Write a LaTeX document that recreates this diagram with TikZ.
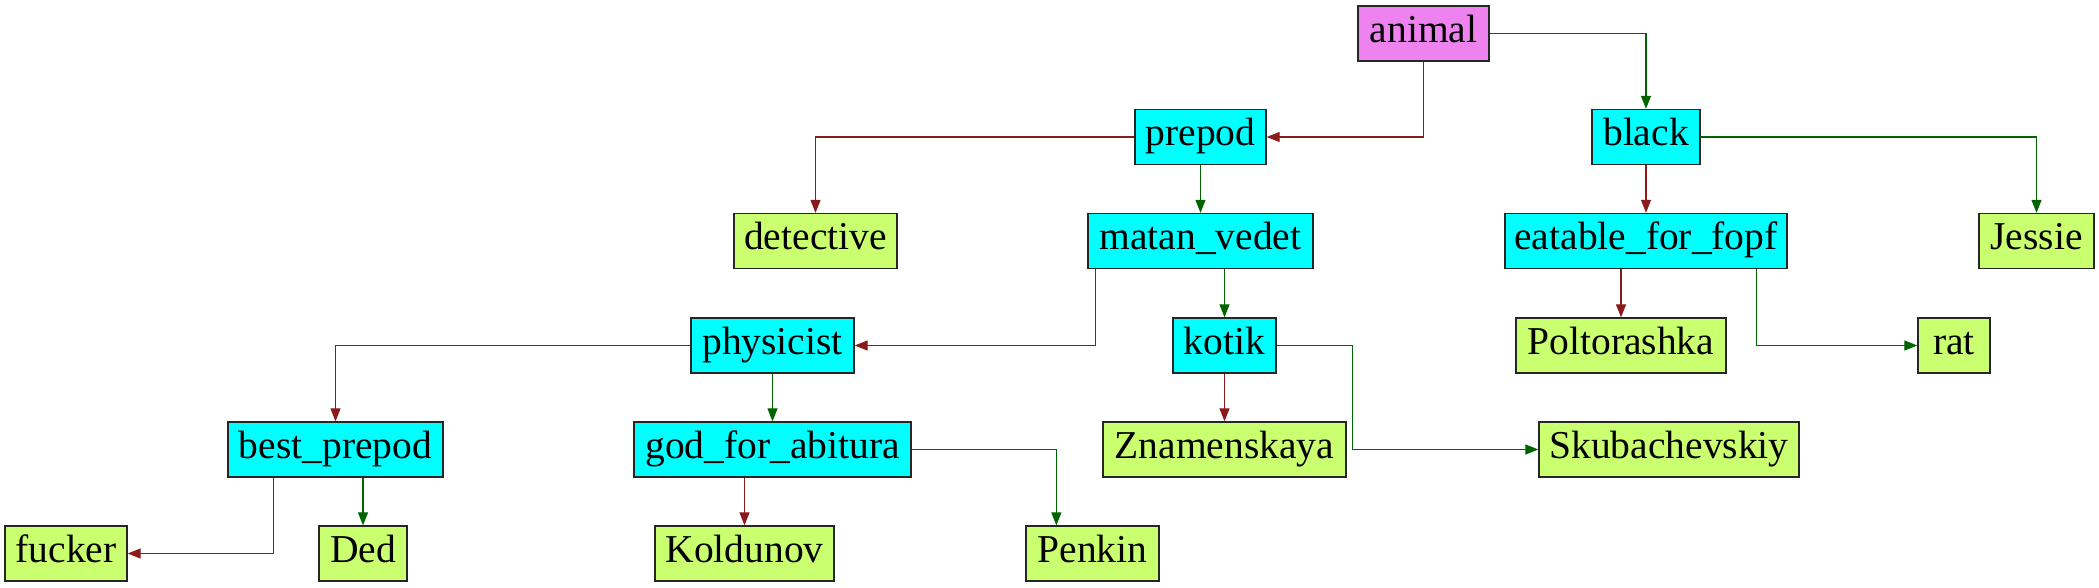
\documentclass[tikz,border=0pt]{standalone}
\usepackage{fontspec}
\setmainfont{Liberation Serif}
\usetikzlibrary{arrows.meta}
\definecolor{nviolet}{HTML}{EE82EE}
\definecolor{ncyan}{HTML}{00FFFF}
\definecolor{nlime}{HTML}{CAFF70}
\definecolor{ered}{HTML}{8B1A1A}
\definecolor{egreen}{HTML}{006400}
\tikzset{
  box/.style={draw=black!85, line width=1.3pt, inner xsep=0pt, inner ysep=0pt,
    minimum height=55pt, text height=36pt, text depth=19pt,
    font=\fontsize{39.5}{47}\selectfont},
  rootbox/.style={box, fill=nviolet},
  midbox/.style={box, fill=ncyan},
  leafbox/.style={box, fill=nlime},
  redge/.style={draw=ered, line width=1.1pt, -{Triangle[length=13pt,width=10pt]}},
  gedge/.style={draw=egreen, line width=1.1pt, -{Triangle[length=13pt,width=10pt]}},
}
\begin{document}
\begin{tikzpicture}[x=1pt,y=-1pt]
\useasboundingbox (0,0) rectangle (2099,587);
\node[rootbox, minimum width=131pt] (animal) at (1423.5,33.5) {animal};
\node[midbox, minimum width=131pt] (prepod) at (1200.5,137) {prepod};
\node[midbox, minimum width=108pt] (black) at (1646,137) {black};
\node[leafbox, minimum width=163pt] (detective) at (815.5,241) {detective};
\node[midbox, minimum width=225pt] (matan) at (1200.5,241) {matan\_vedet};
\node[midbox, minimum width=282pt] (eatable) at (1646,241) {eatable\_for\_fopf};
\node[leafbox, minimum width=115pt] (jessie) at (2036.5,241) {Jessie};
\node[midbox, minimum width=163pt] (physicist) at (772.5,345.5) {physicist};
\node[midbox, minimum width=103pt] (kotik) at (1224.5,345.5) {kotik};
\node[leafbox, minimum width=210pt] (poltorashka) at (1621,345.5) {Poltorashka};
\node[leafbox, minimum width=72pt] (rat) at (1954,345.5) {rat};
\node[midbox, minimum width=215pt] (best) at (335.5,449.5) {best\_prepod};
\node[midbox, minimum width=277pt] (god) at (772.5,449.5) {god\_for\_abitura};
\node[leafbox, minimum width=243pt] (znam) at (1224.5,449.5) {Znamenskaya};
\node[leafbox, minimum width=260pt] (skub) at (1669,449.5) {Skubachevskiy};
\node[leafbox, minimum width=122pt] (fucker) at (66,553.5) {fucker};
\node[leafbox, minimum width=88pt] (ded) at (363,553.5) {Ded};
\node[leafbox, minimum width=179pt] (koldunov) at (744.5,553.5) {Koldunov};
\node[leafbox, minimum width=133pt] (penkin) at (1092.5,553.5) {Penkin};

\draw[redge] (animal.south) |- (prepod.east);
\draw[gedge] (animal.east) -| (black.north);
\draw[redge] (prepod.west) -| (detective.north);
\draw[gedge] (prepod.south) -- (matan.north);
\draw[redge] (black.south) -- (eatable.north);
\draw[gedge] (black.east) -| (jessie.north);
\draw[redge] ([xshift=8pt]matan.south west) |- (physicist.east);
\draw[gedge] (kotik.north |- matan.south) -- (kotik.north);
\draw[redge] (poltorashka.north |- eatable.south) -- (poltorashka.north);
\draw[gedge] ([xshift=-31pt]eatable.south east) |- (rat.west);
\draw[redge] (physicist.west) -| (best.north);
\draw[gedge] (physicist.south) -- (god.north);
\draw[redge] (kotik.south) -- (znam.north);
\draw[gedge] (kotik.east) -- ++(76,0) |- (skub.west);
\draw[redge] ([xshift=46pt]best.south west) |- (fucker.east);
\draw[gedge] (ded.north |- best.south) -- (ded.north);
\draw[redge] (koldunov.north |- god.south) -- (koldunov.north);
\draw[gedge] (god.east) -| ([xshift=31pt]penkin.north west);
\end{tikzpicture}
\end{document}
